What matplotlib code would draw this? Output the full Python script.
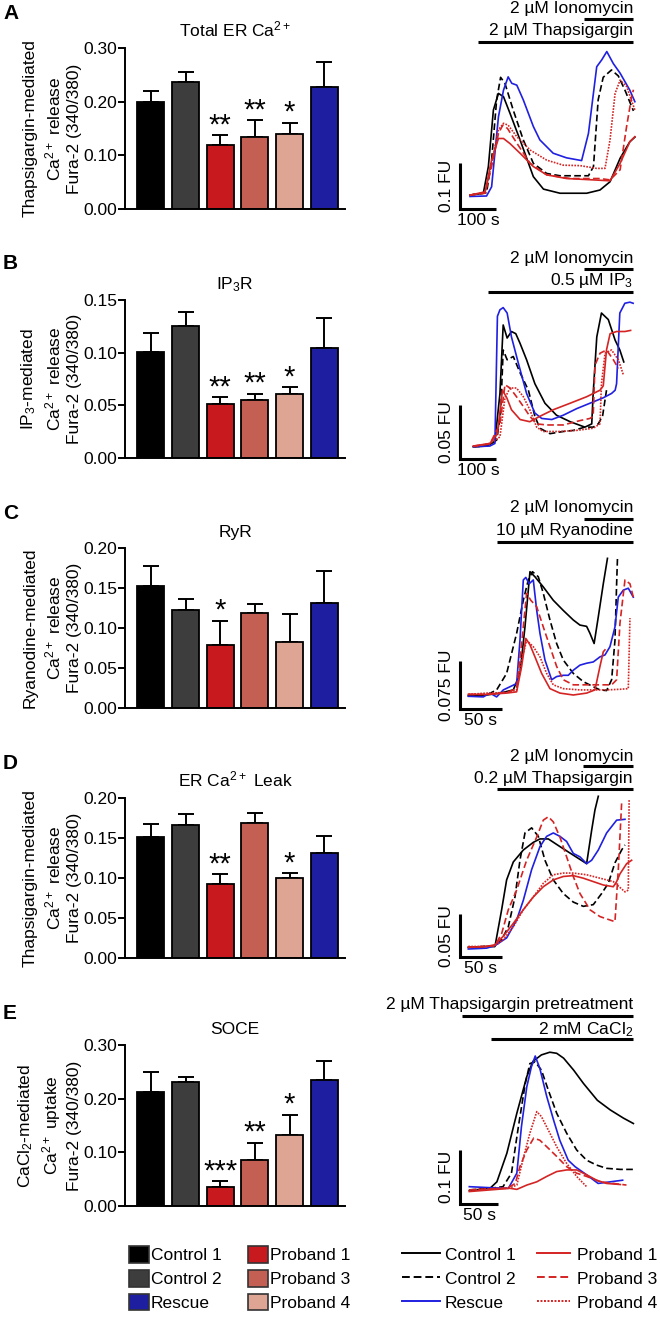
import numpy as np
import matplotlib.pyplot as plt
from matplotlib.patches import Patch
from matplotlib.lines import Line2D

plt.rcParams['font.family'] = ['Liberation Sans', 'DejaVu Sans']
plt.rcParams['mathtext.default'] = 'regular'
plt.rcParams['font.size'] = 12.5

# ---------------- bar data ----------------
groups = ["Control 1", "Control 2", "Proband 1", "Proband 3", "Proband 4", "Rescue"]
bar_colors = ["#000000", "#3d3d3d", "#c8191e", "#c35f53", "#dea494", "#1e1ea0"]

a_vals = [0.199, 0.236, 0.120, 0.135, 0.139, 0.227]
a_errs = [0.020, 0.019, 0.017, 0.030, 0.022, 0.046]
a_stars = ["", "", "**", "**", "*", ""]

b_vals = [0.101, 0.125, 0.051, 0.055, 0.061, 0.104]
b_errs = [0.018, 0.014, 0.007, 0.006, 0.006, 0.029]
b_stars = ["", "", "**", "**", "*", ""]

c_vals = [0.152, 0.123, 0.079, 0.119, 0.083, 0.131]
c_errs = [0.026, 0.013, 0.030, 0.011, 0.035, 0.040]
c_stars = ["", "", "*", "", "", ""]

d_vals = [0.151, 0.166, 0.093, 0.169, 0.100, 0.131]
d_errs = [0.016, 0.014, 0.012, 0.012, 0.006, 0.022]
d_stars = ["", "", "**", "", "*", ""]

e_vals = [0.213, 0.231, 0.036, 0.086, 0.133, 0.235]
e_errs = [0.036, 0.009, 0.010, 0.032, 0.037, 0.036]
e_stars = ["", "", "***", "**", "*", ""]

# ---------------- trace data (time in s, signal in FU above baseline) ----------------
# Panel A: total ER Ca2+
a_c1_t = [0, 37, 51, 65, 79, 93, 111, 139, 176, 204, 250, 324, 361, 389, 417, 444, 458]
a_c1_y = [0.002, 0.006, 0.064, 0.187, 0.223, 0.216, 0.180, 0.122, 0.042, 0.015, 0.006, 0.006, 0.013, 0.031, 0.082, 0.118, 0.128]
a_c2_t = [0, 46, 60, 74, 85, 97, 120, 148, 176, 213, 250, 329, 343, 356, 370, 393, 412, 431, 454]
a_c2_y = [0.002, 0.007, 0.078, 0.209, 0.258, 0.245, 0.187, 0.122, 0.071, 0.049, 0.044, 0.044, 0.064, 0.209, 0.258, 0.274, 0.261, 0.229, 0.185]
a_rs_t = [0, 46, 60, 79, 93, 106, 116, 130, 148, 176, 194, 231, 268, 310, 329, 352, 366, 380, 398, 417, 444, 458]
a_rs_y = [-0.001, 0, 0.020, 0.172, 0.230, 0.259, 0.245, 0.241, 0.209, 0.151, 0.122, 0.093, 0.083, 0.077, 0.136, 0.281, 0.296, 0.314, 0.288, 0.267, 0.230, 0.205]
a_p1_t = [0, 42, 60, 79, 93, 111, 139, 176, 213, 268, 343, 389, 417, 444, 458]
a_p1_y = [0.002, 0.009, 0.078, 0.125, 0.125, 0.114, 0.093, 0.064, 0.046, 0.038, 0.035, 0.033, 0.071, 0.118, 0.129]
a_p3_t = [0, 42, 60, 79, 91, 104, 130, 167, 213, 278, 361, 389, 417, 435, 449, 454]
a_p3_y = [0.002, 0.006, 0.064, 0.136, 0.154, 0.147, 0.115, 0.071, 0.046, 0.038, 0.038, 0.035, 0.057, 0.151, 0.216, 0.231]
a_p4_t = [0, 42, 60, 79, 93, 106, 130, 167, 213, 259, 306, 352, 375, 389, 403, 417, 435, 458]
a_p4_y = [0.002, 0.007, 0.071, 0.144, 0.158, 0.154, 0.129, 0.100, 0.078, 0.067, 0.066, 0.060, 0.060, 0.122, 0.223, 0.252, 0.238, 0.187]

# Panel B: IP3R
b_c1_t = [0, 37, 60, 74, 83, 94, 106, 118, 130, 148, 171, 199, 231, 269, 310, 329, 333, 343, 356, 375, 394, 407, 418]
b_c1_y = [0, 0.0006, 0.0046, 0.049, 0.112, 0.100, 0.106, 0.104, 0.095, 0.080, 0.058, 0.040, 0.029, 0.023, 0.018, 0.021, 0.049, 0.101, 0.123, 0.117, 0.098, 0.089, 0.078]
b_c2_t = [0, 37, 65, 76, 83, 94, 111, 130, 153, 171, 185, 213, 250, 278, 310, 333, 347, 359, 370]
b_c2_y = [0, 0.0006, 0.0061, 0.031, 0.089, 0.080, 0.083, 0.068, 0.052, 0.028, 0.017, 0.012, 0.014, 0.015, 0.018, 0.018, 0.021, 0.028, 0.052]
b_rs_t = [0, 46, 60, 67, 74, 83, 94, 106, 125, 148, 171, 190, 218, 250, 287, 324, 361, 384, 394, 398, 407, 421, 435, 444]
b_rs_y = [0, 0.0006, 0.003, 0.120, 0.126, 0.128, 0.123, 0.101, 0.077, 0.049, 0.031, 0.026, 0.025, 0.029, 0.035, 0.040, 0.045, 0.049, 0.052, 0.058, 0.123, 0.132, 0.133, 0.132]
b_p1_t = [0, 46, 67, 81, 93, 106, 130, 157, 185, 222, 269, 315, 352, 361, 370, 380, 398, 421, 437]
b_p1_y = [0.0006, 0.003, 0.012, 0.052, 0.045, 0.034, 0.025, 0.023, 0.028, 0.034, 0.040, 0.046, 0.052, 0.056, 0.089, 0.104, 0.106, 0.106, 0.107]
b_p3_t = [0, 46, 74, 88, 102, 120, 139, 157, 176, 204, 250, 296, 324, 333, 338, 352, 370, 389, 403]
b_p3_y = [0.0006, 0.0025, 0.021, 0.057, 0.054, 0.046, 0.037, 0.028, 0.021, 0.020, 0.020, 0.024, 0.026, 0.028, 0.075, 0.086, 0.089, 0.080, 0.072]
b_p4_t = [0, 46, 74, 88, 102, 120, 139, 157, 176, 194, 241, 287, 333, 352, 356, 366, 384, 403, 417]
b_p4_y = [0, 0.003, 0.009, 0.045, 0.054, 0.054, 0.046, 0.034, 0.018, 0.014, 0.014, 0.015, 0.017, 0.021, 0.058, 0.086, 0.089, 0.080, 0.066]

# Panel C: RyR
c_c1_t = [0, 22, 38, 54, 62, 68, 74, 80, 90, 102, 114, 126, 134, 142, 146, 151, 156, 162, 167]
c_c1_y = [-0.001, 0, 0.003, 0.008, 0.034, 0.107, 0.194, 0.186, 0.170, 0.149, 0.133, 0.118, 0.110, 0.108, 0.097, 0.081, 0.123, 0.175, 0.215]
c_c2_t = [0, 22, 34, 46, 58, 66, 72, 77, 84, 90, 98, 106, 114, 126, 138, 150, 158, 166, 172, 176, 178, 179]
c_c2_y = [-0.002, 0, 0.008, 0.034, 0.097, 0.149, 0.181, 0.194, 0.186, 0.160, 0.118, 0.081, 0.055, 0.034, 0.021, 0.013, 0.008, 0.007, 0.024, 0.086, 0.175, 0.215]
c_rs_t = [0, 18, 26, 34, 42, 50, 58, 62, 66, 69, 73, 78, 82, 86, 92, 100, 106, 114, 120, 126, 134, 142, 150, 158, 164, 170, 176, 180, 186, 192, 198]
c_rs_y = [-0.002, -0.003, 0.003, -0.003, 0.008, 0.013, 0.018, 0.086, 0.181, 0.185, 0.175, 0.181, 0.134, 0.097, 0.055, 0.024, 0.029, 0.031, 0.031, 0.039, 0.047, 0.050, 0.052, 0.060, 0.063, 0.076, 0.107, 0.154, 0.165, 0.168, 0.154]
c_p1_t = [0, 22, 46, 58, 64, 69, 74, 80, 88, 98, 110, 126, 142, 152, 158, 162, 164]
c_p1_y = [0.001, 0.001, 0.003, 0.005, 0.045, 0.089, 0.079, 0.060, 0.034, 0.010, 0.003, 0, 0.003, 0.008, 0.045, 0.068, 0.071]
c_p3_t = [0, 22, 46, 58, 64, 70, 75, 82, 90, 98, 106, 114, 126, 142, 158, 172, 178, 182, 188, 194, 198]
c_p3_y = [0.001, 0.001, 0.004, 0.010, 0.081, 0.160, 0.149, 0.139, 0.107, 0.076, 0.045, 0.024, 0.016, 0.016, 0.016, 0.016, 0.024, 0.113, 0.181, 0.175, 0.154]
c_p4_t = [0, 22, 46, 58, 64, 70, 78, 86, 94, 102, 114, 134, 150, 166, 182, 192, 194]
c_p4_y = [0.001, 0.003, 0.004, 0.008, 0.055, 0.086, 0.076, 0.060, 0.034, 0.016, 0.010, 0.008, 0.008, 0.008, 0.009, 0.010, 0.121]

# Panel D: ER Ca2+ leak
d_c1_t = [0, 22, 32, 40, 46, 54, 66, 78, 86, 96, 110, 126, 142, 148, 152, 156]
d_c1_y = [0, 0.001, 0.001, 0.044, 0.079, 0.100, 0.114, 0.123, 0.127, 0.127, 0.118, 0.108, 0.098, 0.137, 0.161, 0.177]
d_c2_t = [0, 22, 32, 40, 48, 56, 62, 68, 76, 84, 92, 102, 114, 126, 138, 150, 160, 168, 176, 184, 188]
d_c2_y = [0, 0.001, 0.001, 0.009, 0.024, 0.059, 0.102, 0.134, 0.140, 0.130, 0.102, 0.079, 0.063, 0.053, 0.048, 0.050, 0.063, 0.075, 0.099, 0.114, 0.120]
d_rs_t = [0, 22, 32, 46, 58, 66, 76, 86, 94, 102, 110, 118, 126, 134, 142, 148, 156, 166, 178, 188]
d_rs_y = [-0.002, -0.001, 0.002, 0.011, 0.032, 0.055, 0.091, 0.118, 0.130, 0.134, 0.130, 0.124, 0.110, 0.106, 0.098, 0.102, 0.114, 0.134, 0.149, 0.150]
d_p1_t = [0, 22, 32, 42, 54, 66, 78, 90, 102, 114, 126, 138, 150, 162, 174, 178, 182, 190, 196]
d_p1_y = [0, 0.001, 0.003, 0.013, 0.028, 0.044, 0.059, 0.071, 0.079, 0.083, 0.084, 0.081, 0.077, 0.073, 0.071, 0.077, 0.086, 0.098, 0.102]
d_p3_t = [0, 22, 32, 40, 48, 58, 70, 82, 90, 96, 102, 110, 118, 126, 134, 146, 158, 170, 176, 180, 183, 184]
d_p3_y = [0, 0.001, 0.002, 0.016, 0.044, 0.067, 0.102, 0.129, 0.149, 0.153, 0.147, 0.129, 0.106, 0.083, 0.063, 0.044, 0.036, 0.032, 0.030, 0.091, 0.149, 0.169]
d_p4_t = [0, 22, 32, 42, 54, 66, 78, 90, 102, 114, 126, 142, 158, 174, 188, 192, 193]
d_p4_y = [0.001, 0.001, 0.002, 0.009, 0.024, 0.044, 0.059, 0.075, 0.085, 0.087, 0.087, 0.085, 0.081, 0.077, 0.065, 0.067, 0.173]

# Panel E: SOCE
e_c1_t = [0, 27, 36, 49, 62, 75, 83, 94, 105, 114, 123, 136, 149, 167, 184, 201, 214]
e_c1_y = [-0.004, 0, 0.012, 0.065, 0.139, 0.207, 0.235, 0.247, 0.252, 0.250, 0.241, 0.219, 0.194, 0.163, 0.145, 0.130, 0.120]
e_c2_t = [0, 27, 44, 55, 64, 73, 79, 86, 94, 103, 114, 127, 140, 153, 166, 179, 197, 214]
e_c2_y = [-0.003, 0, 0.003, 0.028, 0.114, 0.194, 0.231, 0.234, 0.219, 0.182, 0.139, 0.102, 0.071, 0.052, 0.043, 0.037, 0.035, 0.035]
e_rs_t = [0, 29, 51, 62, 68, 75, 81, 86, 92, 101, 110, 118, 129, 138, 153, 168, 184, 200]
e_rs_y = [0.003, 0.001, 0, 0.028, 0.114, 0.188, 0.225, 0.245, 0.222, 0.170, 0.126, 0.089, 0.052, 0.040, 0.025, 0.009, 0.012, 0.015]
e_p1_t = [0, 27, 53, 62, 75, 88, 101, 114, 127, 140, 153, 166, 179, 197]
e_p1_y = [-0.006, -0.003, 0, -0.002, 0.006, 0.012, 0.022, 0.031, 0.034, 0.034, 0.025, 0.015, 0.009, 0.007]
e_p3_t = [0, 27, 49, 60, 66, 75, 84, 92, 101, 114, 127, 140, 153, 171, 188, 205]
e_p3_y = [-0.003, -0.001, 0, 0.009, 0.040, 0.071, 0.093, 0.089, 0.077, 0.059, 0.040, 0.028, 0.022, 0.012, 0.009, 0.006]
e_p4_t = [0, 27, 53, 62, 71, 79, 88, 94, 103, 114, 127, 140, 153]
e_p4_y = [-0.003, -0.001, 0.001, 0.006, 0.059, 0.102, 0.142, 0.133, 0.108, 0.077, 0.046, 0.022, 0.003]

trace_labels = ["Control 1", "Control 2", "Rescue", "Proband 1", "Proband 3", "Proband 4"]
trace_colors = ["black", "black", "#2020e0", "#d42424", "#d42424", "#d42424"]
trace_styles = ["-", (0, (4, 2)), "-", "-", (0, (4, 2)), (0, (1, 0.8))]

W, H = 660, 1322
fig = plt.figure(figsize=(W / 100, H / 100), dpi=100)


def bar_panel(top, bot, vals, errs, stars, title, ylabel, ymax, step):
    ax = fig.add_axes([125 / W, 1 - bot / H, 220 / W, (bot - top) / H])
    x = np.arange(len(vals))
    ax.bar(x, vals, width=0.78, color=bar_colors, edgecolor="black", linewidth=1.3, zorder=2)
    ax.errorbar(x, vals, yerr=[np.zeros(len(vals)), errs], fmt="none", ecolor="black",
                elinewidth=1.4, capsize=6, capthick=1.4, zorder=1)
    for xi, v, e, s in zip(x, vals, errs, stars):
        if s:
            ax.annotate(s, (xi, v + e), xytext=(0, -3), textcoords="offset points",
                        ha="center", va="bottom", fontsize=21)
    ax.set_xlim(-0.75, 5.6)
    ax.set_ylim(0, ymax)
    ax.set_yticks(np.arange(0, ymax + 1e-9, step))
    ax.yaxis.set_major_formatter(plt.FormatStrFormatter("%.2f"))
    ax.set_xticks([])
    for sp in ["top", "right"]:
        ax.spines[sp].set_visible(False)
    for sp in ["left", "bottom"]:
        ax.spines[sp].set_linewidth(1.4)
    ax.tick_params(axis="y", width=1.4, length=5, labelsize=12.5, pad=0.5)
    ax.set_title(title, pad=8, fontsize=12.5)
    ax.set_ylabel(ylabel, labelpad=1, linespacing=1.32, fontsize=12.5)
    return ax


def trace_panel(top, bot, x0, y0, px_s, px_fu, traces, sb_bottom, sb_fu, sb_s, fu_label, s_label, treatments):
    left, right = 430, 655
    ax = fig.add_axes([left / W, 1 - bot / H, (right - left) / W, (bot - top) / H])
    ax.set_xlim((left - x0) / px_s, (right - x0) / px_s)
    ax.set_ylim((y0 - bot) / px_fu, (y0 - top) / px_fu)
    ax.axis("off")
    for (t, y), col, ls in zip(traces, trace_colors, trace_styles):
        ax.plot(t, y, color=col, linestyle=ls, linewidth=1.2, clip_on=False)
    # scale bar
    tx = (460 - x0) / px_s
    ty = (y0 - sb_bottom) / px_fu
    ax.plot([tx, tx, tx + sb_s], [ty + sb_fu, ty, ty], color="black", linewidth=2.2,
            clip_on=False, solid_capstyle="butt", solid_joinstyle="miter")
    ax.text(tx - 6 / px_s, ty + sb_fu / 2, fu_label, rotation=90, ha="right", va="center", fontsize=12.5)
    ax.text(tx + sb_s / 2, ty - 4 / px_fu, s_label, ha="center", va="top", fontsize=12.5)
    # treatment bars
    for label, t_start, t_end, text_px, bar_px in treatments:
        yb = (y0 - bar_px) / px_fu
        ax.plot([t_start, t_end], [yb, yb], color="black", linewidth=2.2, clip_on=False,
                solid_capstyle="butt")
        ax.text(t_end, (y0 - text_px) / px_fu, label, ha="right", va="center", fontsize=12.5)
    return ax


bar_panel(48, 209, a_vals, a_errs, a_stars, "Total ER $Ca^{2+}$",
          "Thapsigargin-mediated\n$Ca^{2+}$ release\nFura-2 (340/380)", 0.30, 0.10)
bar_panel(300, 458, b_vals, b_errs, b_stars, "$IP_3R$",
          "$IP_3$-mediated\n$Ca^{2+}$ release\nFura-2 (340/380)", 0.15, 0.05)
bar_panel(548, 708, c_vals, c_errs, c_stars, "RyR",
          "Ryanodine-mediated\n$Ca^{2+}$ release\nFura-2 (340/380)", 0.20, 0.05)
bar_panel(798, 958, d_vals, d_errs, d_stars, "ER $Ca^{2+}$ Leak",
          "Thapsigargin-mediated\n$Ca^{2+}$ release\nFura-2 (340/380)", 0.20, 0.05)
bar_panel(1045, 1206, e_vals, e_errs, e_stars, "SOCE",
          "$CaCl_2$-mediated\n$Ca^{2+}$ uptake\nFura-2 (340/380)", 0.30, 0.10)

trace_panel(45, 215, 470, 196, 0.36, 460,
            [(a_c1_t, a_c1_y), (a_c2_t, a_c2_y), (a_rs_t, a_rs_y), (a_p1_t, a_p1_y), (a_p3_t, a_p3_y), (a_p4_t, a_p4_y)],
            209, 0.1, 100, "0.1 FU", "100 s",
            [("2 µM Ionomycin", 317, 453, 8, 19), ("2 µM Thapsigargin", 22, 453, 31, 42)])
trace_panel(295, 465, 473.3, 446.7, 0.36, 1086.7,
            [(b_c1_t, b_c1_y), (b_c2_t, b_c2_y), (b_rs_t, b_rs_y), (b_p1_t, b_p1_y), (b_p3_t, b_p3_y), (b_p4_t, b_p4_y)],
            459, 0.05, 100, "0.05 FU", "100 s",
            [("2 µM Ionomycin", 308, 444, 258, 269), ("0.5 µM $IP_3$", 41, 444, 281, 292)])
trace_panel(545, 715, 468.3, 695, 0.8333, 635.6,
            [(c_c1_t, c_c1_y), (c_c2_t, c_c2_y), (c_rs_t, c_rs_y), (c_p1_t, c_p1_y), (c_p3_t, c_p3_y), (c_p4_t, c_p4_y)],
            709, 0.075, 50, "0.075 FU", "50 s",
            [("2 µM Ionomycin", 139, 197.6, 508, 519), ("10 µM Ryanodine", 34, 197.6, 531, 542)])
trace_panel(795, 963, 468.3, 947.3, 0.8333, 853.3,
            [(d_c1_t, d_c1_y), (d_c2_t, d_c2_y), (d_rs_t, d_rs_y), (d_p1_t, d_p1_y), (d_p3_t, d_p3_y), (d_p4_t, d_p4_y)],
            957, 0.05, 50, "0.05 FU", "50 s",
            [("2 µM Ionomycin", 138, 197.6, 757, 766), ("0.2 µM Thapsigargin", 34, 197.6, 779, 789)])
trace_panel(1045, 1210, 469.3, 1188.3, 0.7667, 540,
            [(e_c1_t, e_c1_y), (e_c2_t, e_c2_y), (e_rs_t, e_rs_y), (e_p1_t, e_p1_y), (e_p3_t, e_p3_y), (e_p4_t, e_p4_y)],
            1204, 0.1, 50, "0.1 FU", "50 s",
            [("2 µM Thapsigargin pretreatment", -9.5, 213.5, 1004, 1016), ("2 mM $CaCl_2$", 28, 213.5, 1030, 1039)])

# panel letters
for letter, y in zip("ABCDE", [4, 254, 504, 754, 1004]):
    fig.text(3 / W, 1 - y / H, letter, fontsize=15, fontweight="bold", ha="left", va="top")

# legends
bar_handles = [Patch(facecolor=c, edgecolor="#333333", linewidth=1.2) for c in bar_colors]
line_handles = [Line2D([], [], color=c, linestyle=s, linewidth=1.4) for c, s in zip(trace_colors, trace_styles)]
leg_cols = [
    ([bar_handles[0], bar_handles[1], bar_handles[5]], ["Control 1", "Control 2", "Rescue"], 129, 1.15, 0.12),
    ([bar_handles[2], bar_handles[3], bar_handles[4]], ["Proband 1", "Proband 3", "Proband 4"], 248, 1.15, 0.12),
    (line_handles[:3], trace_labels[:3], 402, 2.2, 0.25),
    (line_handles[3:], trace_labels[3:], 537, 1.9, 0.4),
]
for handles, labels, x, hl, tp in leg_cols:
    fig.legend(handles, labels, loc="upper left", bbox_to_anchor=(x / W, 1 - 1246 / H),
               frameon=False, borderpad=0, borderaxespad=0, handlelength=hl, handleheight=1.1,
               handletextpad=tp, labelspacing=0.38, fontsize=12.5)

fig.savefig("out.png", dpi=100)
